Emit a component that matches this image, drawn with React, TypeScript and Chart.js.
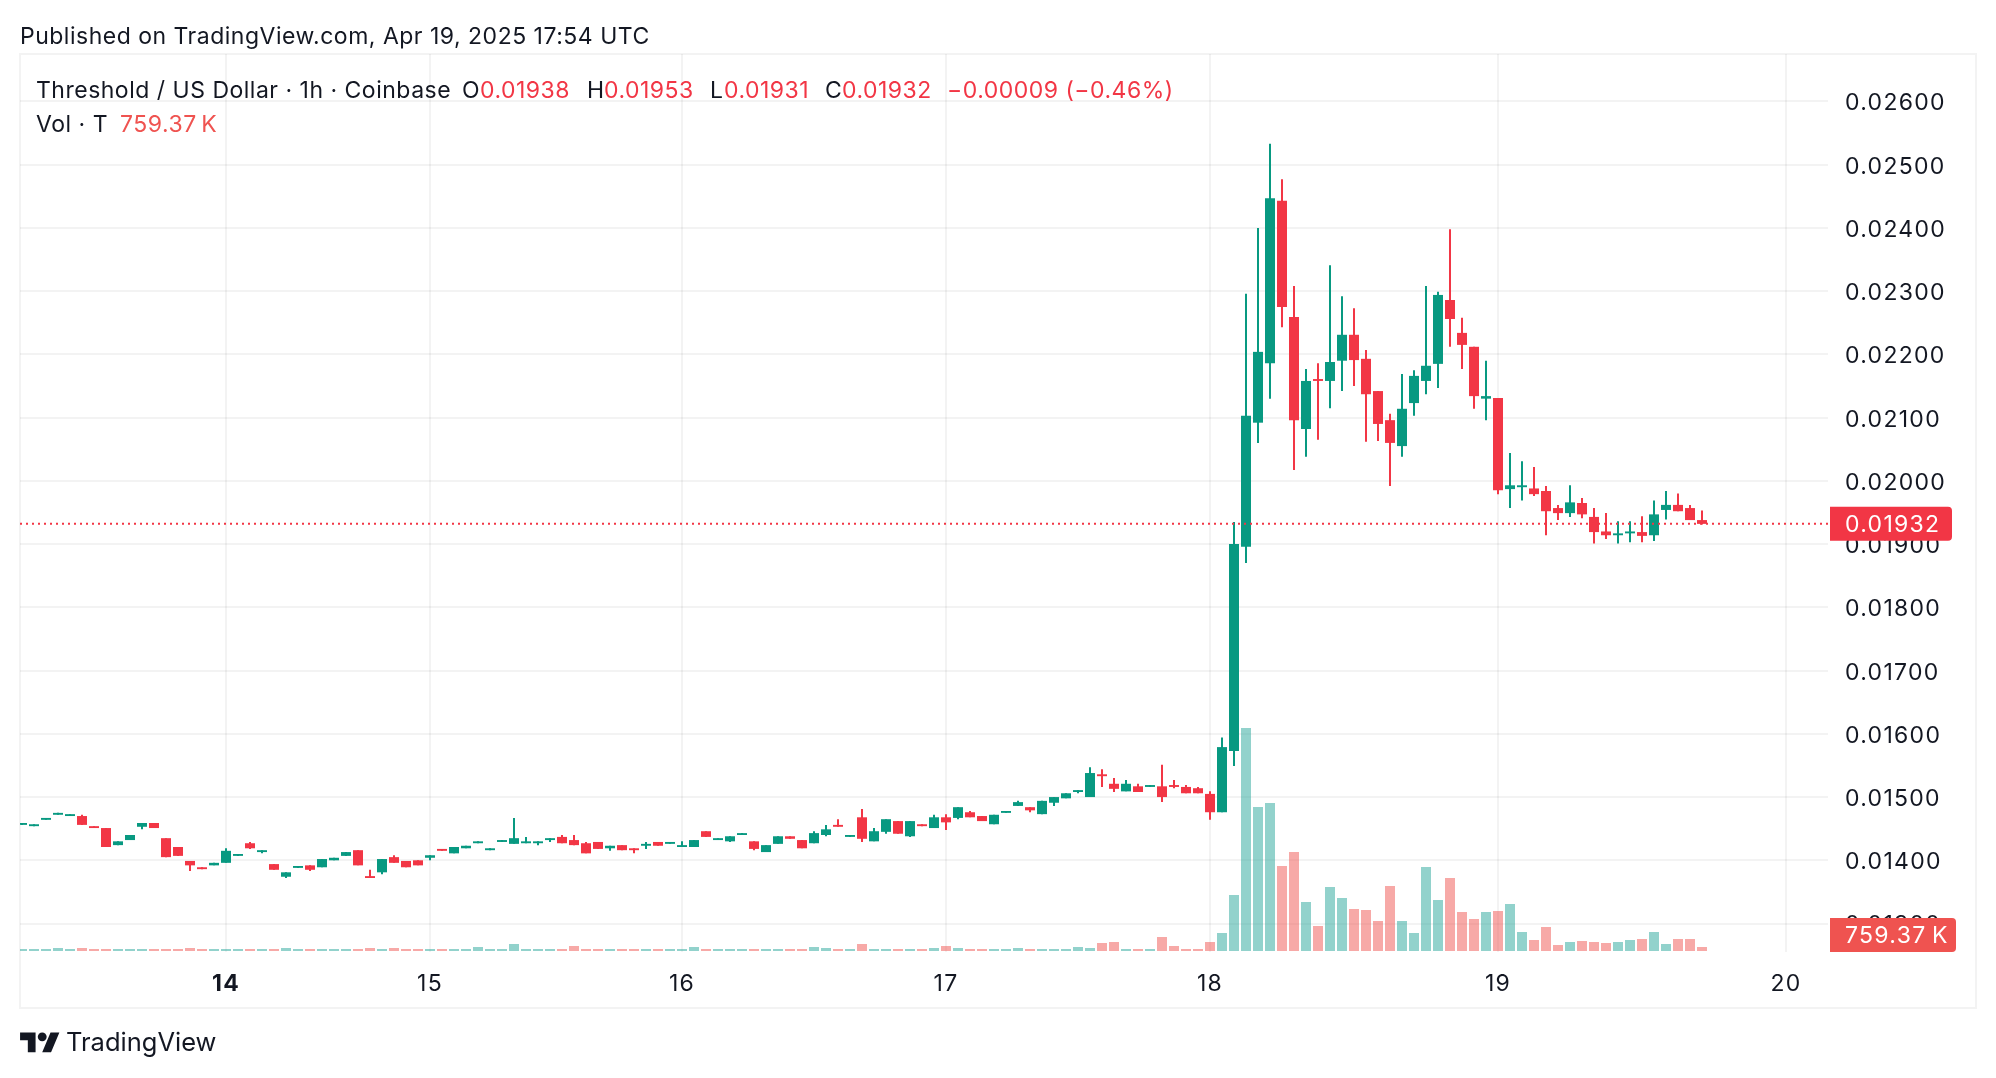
import { useEffect, useRef } from 'react';
import { Chart, registerables } from 'chart.js';

Chart.register(...registerables);

const opens = [
  0.01456, 0.01454, 0.01464, 0.01472, 0.0147, 0.0147, 0.01454, 0.01451, 0.01424, 0.01432, 0.01453, 0.01459, 0.01435, 0.01421, 0.01399, 0.01389, 0.01392, 0.01396, 0.01407, 0.01427,
  0.01413, 0.01394, 0.01374, 0.01388, 0.01392, 0.01389, 0.014, 0.01407, 0.01416, 0.01375, 0.01381, 0.01405, 0.01399, 0.014, 0.01404, 0.01418, 0.01411, 0.01419, 0.01427, 0.01416,
  0.01429, 0.01426, 0.01427, 0.01427, 0.01432, 0.01437, 0.01432, 0.01427, 0.01429, 0.01419, 0.01424, 0.01419, 0.01423, 0.01429, 0.01426, 0.01421, 0.01421, 0.01446, 0.01432, 0.0143,
  0.0144, 0.0143, 0.01413, 0.01426, 0.01438, 0.01432, 0.01427, 0.0144, 0.01456, 0.01437, 0.01468, 0.0143, 0.01445, 0.01462, 0.01438, 0.01457, 0.01451, 0.01468, 0.01467, 0.01476,
  0.0147, 0.01457, 0.01475, 0.01486, 0.01484, 0.01473, 0.01491, 0.01498, 0.01508, 0.015, 0.01536, 0.01521, 0.01509, 0.01517, 0.01516, 0.01517, 0.01519, 0.01516, 0.01514, 0.01505,
  0.01476, 0.01573, 0.01896, 0.02092, 0.02186, 0.02443, 0.02259, 0.02082, 0.02161, 0.02158, 0.0219, 0.02231, 0.02193, 0.02142, 0.02096, 0.02055, 0.02123, 0.02158, 0.02185, 0.02286,
  0.02234, 0.02212, 0.0213, 0.02131, 0.01987, 0.0199, 0.01988, 0.01984, 0.01957, 0.01949, 0.01965, 0.01943, 0.0192, 0.01914, 0.01917, 0.01919, 0.01914, 0.01954, 0.01962, 0.01957,
  0.01938,
];
const highs = [
  0.01459, 0.01457, 0.01467, 0.01475, 0.01473, 0.01472, 0.01454, 0.01451, 0.0143, 0.0144, 0.01459, 0.01459, 0.01435, 0.01421, 0.01399, 0.01389, 0.01396, 0.01419, 0.0141, 0.01429,
  0.01416, 0.01394, 0.01381, 0.01391, 0.01392, 0.01402, 0.01404, 0.01413, 0.01416, 0.01385, 0.01402, 0.01408, 0.01399, 0.014, 0.01408, 0.01418, 0.01421, 0.01423, 0.0143, 0.01419,
  0.01432, 0.01467, 0.01437, 0.0143, 0.01435, 0.0144, 0.0144, 0.01429, 0.01429, 0.01423, 0.01424, 0.01419, 0.01429, 0.01429, 0.01429, 0.0143, 0.01432, 0.01446, 0.01435, 0.01438,
  0.01443, 0.0143, 0.01424, 0.01438, 0.01438, 0.01432, 0.01446, 0.01456, 0.01465, 0.0144, 0.01481, 0.01451, 0.01465, 0.01462, 0.01462, 0.01457, 0.01472, 0.01473, 0.01484, 0.01478,
  0.0147, 0.01472, 0.01478, 0.01494, 0.01484, 0.01494, 0.015, 0.01506, 0.01511, 0.01547, 0.01544, 0.0153, 0.01527, 0.01521, 0.01519, 0.01551, 0.01527, 0.01519, 0.01516, 0.01509,
  0.01594, 0.01935, 0.02296, 0.024, 0.02533, 0.02477, 0.02308, 0.02177, 0.02186, 0.02341, 0.02292, 0.02273, 0.02207, 0.02142, 0.02106, 0.02169, 0.02175, 0.02308, 0.02299, 0.02398,
  0.02258, 0.02212, 0.0219, 0.02131, 0.02044, 0.02031, 0.02022, 0.01992, 0.01962, 0.01993, 0.01973, 0.01957, 0.01949, 0.01936, 0.01936, 0.01944, 0.01969, 0.01984, 0.0198, 0.01962,
  0.01953,
];
const lows = [
  0.01456, 0.01454, 0.01464, 0.01472, 0.0147, 0.01456, 0.01451, 0.01421, 0.01424, 0.01432, 0.01449, 0.01451, 0.01405, 0.01407, 0.01383, 0.01386, 0.01392, 0.01396, 0.01407, 0.01418,
  0.01411, 0.01385, 0.01372, 0.01388, 0.01383, 0.01389, 0.014, 0.01407, 0.01392, 0.01372, 0.01378, 0.01396, 0.01389, 0.01392, 0.014, 0.01415, 0.01411, 0.01419, 0.01427, 0.01416,
  0.01429, 0.01426, 0.01427, 0.01424, 0.01429, 0.01427, 0.01424, 0.01411, 0.01418, 0.01415, 0.01416, 0.01411, 0.01418, 0.01423, 0.01426, 0.01421, 0.01421, 0.01437, 0.01432, 0.01429,
  0.0144, 0.01416, 0.01413, 0.01426, 0.01434, 0.01419, 0.01427, 0.01438, 0.01453, 0.01437, 0.01429, 0.0143, 0.01442, 0.01442, 0.01437, 0.01454, 0.01451, 0.01448, 0.01465, 0.01468,
  0.01462, 0.01457, 0.01475, 0.01486, 0.01476, 0.01473, 0.01486, 0.01498, 0.01506, 0.015, 0.01516, 0.01508, 0.01509, 0.01508, 0.01516, 0.01492, 0.01514, 0.01506, 0.01506, 0.01464,
  0.01476, 0.01549, 0.0187, 0.0206, 0.0213, 0.02243, 0.02017, 0.02038, 0.02065, 0.02115, 0.02142, 0.0215, 0.02062, 0.02063, 0.01992, 0.02038, 0.02103, 0.02137, 0.02147, 0.02212,
  0.02177, 0.02114, 0.02096, 0.01979, 0.01957, 0.01969, 0.01976, 0.01914, 0.01938, 0.01943, 0.01941, 0.01901, 0.01908, 0.01901, 0.01903, 0.01903, 0.01905, 0.01939, 0.01952, 0.01938,
  0.01931,
];
const closes = [
  0.01459, 0.01457, 0.01467, 0.01475, 0.01473, 0.01456, 0.01451, 0.01421, 0.0143, 0.0144, 0.01459, 0.01451, 0.01405, 0.01407, 0.01392, 0.01386, 0.01396, 0.01415, 0.0141, 0.01419,
  0.01416, 0.01385, 0.01381, 0.01391, 0.01385, 0.01402, 0.01404, 0.01413, 0.01392, 0.01372, 0.01402, 0.01396, 0.01389, 0.01392, 0.01408, 0.01415, 0.01421, 0.01423, 0.0143, 0.01419,
  0.01432, 0.01435, 0.0143, 0.0143, 0.01435, 0.01427, 0.01424, 0.01411, 0.01418, 0.01423, 0.01416, 0.01416, 0.01426, 0.01423, 0.01429, 0.01424, 0.01432, 0.01437, 0.01435, 0.01438,
  0.01443, 0.01418, 0.01424, 0.01438, 0.01434, 0.01419, 0.01443, 0.01449, 0.01453, 0.0144, 0.01434, 0.01446, 0.01465, 0.01442, 0.01462, 0.01454, 0.01468, 0.0146, 0.01484, 0.01468,
  0.01462, 0.01472, 0.01478, 0.01492, 0.01479, 0.01494, 0.015, 0.01506, 0.01511, 0.01538, 0.01533, 0.01513, 0.01521, 0.01508, 0.01519, 0.015, 0.01516, 0.01506, 0.01506, 0.01476,
  0.01579, 0.019, 0.02103, 0.02204, 0.02447, 0.02275, 0.02096, 0.02158, 0.02158, 0.02188, 0.02231, 0.02191, 0.02137, 0.0209, 0.0206, 0.02114, 0.02166, 0.02182, 0.02294, 0.02256,
  0.02215, 0.02134, 0.02134, 0.01985, 0.01993, 0.01993, 0.01979, 0.01952, 0.01949, 0.01966, 0.01947, 0.01919, 0.01914, 0.01917, 0.0192, 0.01913, 0.01947, 0.01962, 0.01952, 0.01938,
  0.01932,
];
// volume in thousands
const volumes = [
  380, 380, 380, 570, 380, 570, 380, 380, 380, 380, 380, 380, 380, 380, 570, 380, 380, 380, 380, 380,
  380, 380, 570, 380, 380, 380, 380, 380, 380, 570, 380, 570, 380, 380, 380, 380, 380, 380, 760, 380,
  380, 1330, 380, 380, 380, 380, 950, 380, 380, 380, 380, 380, 380, 380, 380, 380, 760, 380, 380, 380,
  380, 380, 380, 380, 380, 380, 760, 570, 380, 380, 1330, 380, 380, 380, 380, 380, 570, 950, 570, 380,
  380, 380, 380, 570, 380, 380, 380, 380, 760, 570, 1520, 1710, 380, 380, 380, 2660, 950, 380, 380, 1710,
  3420, 10640, 42370, 27360, 28120, 16150, 18810, 9310, 4750, 12160, 10070, 7980, 7790, 5700, 12350, 5700, 3420, 15960, 9690, 13870,
  7410, 6080, 7410, 7600, 8930, 3610, 2090, 4560, 1140, 1710, 1900, 1710, 1520, 1710, 2090, 2280, 3610, 1330, 2280, 2280,
  759.37,
];
const priceTicks = [0.026, 0.025, 0.024, 0.023, 0.022, 0.021, 0.02, 0.019, 0.018, 0.017, 0.016, 0.015, 0.014, 0.013];
const dayTicks = [17, 34, 55, 77, 99, 123, 147];
const dayLabels = ['14', '15', '16', '17', '18', '19', '20'];
const lastPrice = 0.01932;
const lastVolume = 759.37;

const GREEN = '#089981';
const RED = '#f23645';
const VOL_RED = '#ef5350';
const INK = '#131722';
const GRID = 'rgba(46,46,46,0.06)';
const FONT = 'Inter, "Noto Sans", sans-serif';

const xMin = -1 / 6;
const xMax = 150.5;

const isUp = (i: number) => closes[i] >= opens[i];

// frame around the pane and the two coloured axis tags
const decorations = {
  id: 'decorations',
  beforeDraw(chart: any) {
    const { ctx } = chart;
    ctx.save();
    ctx.strokeStyle = GRID;
    ctx.lineWidth = 2;
    ctx.strokeRect(20, 54, 1956, 954);
    ctx.restore();
    ctx.letterSpacing = '1.3px';
  },
  afterDraw(chart: any) {
    const { ctx, scales } = chart;
    const tag = (y: number, w: number, bg: string, text: string) => {
      ctx.save();
      ctx.fillStyle = bg;
      ctx.beginPath();
      ctx.roundRect(1830, y - 17, w, 34, [0, 4, 4, 0]);
      ctx.fill();
      ctx.fillStyle = '#ffffff';
      ctx.font = `23px ${FONT}`;
      ctx.textBaseline = 'middle';
      ctx.fillText(text, 1845, y + 1);
      ctx.restore();
    };
    tag(scales.y.getPixelForValue(lastPrice), 122, RED, lastPrice.toFixed(5));
    tag(935, 126, VOL_RED, `${lastVolume}\u2009K`);
  },
};

function App() {
  const canvasRef = useRef<HTMLCanvasElement | null>(null);

  useEffect(() => {
    if (!canvasRef.current) return;
    const index = opens.map((_, i) => i);
    const colors = index.map((i) => (isUp(i) ? GREEN : RED));

    const chart = new Chart(canvasRef.current, {
      type: 'bar',
      plugins: [decorations],
      data: {
        datasets: [
          {
            type: 'line',
            data: [
              { x: xMin, y: lastPrice },
              { x: xMax, y: lastPrice },
            ],
            borderColor: RED,
            borderWidth: 2,
            borderDash: [2, 4],
            pointRadius: 0,
            yAxisID: 'y',
            order: 1,
          },
          {
            data: index.map((i) => ({ x: i, y: [Math.min(opens[i], closes[i]), Math.max(opens[i], closes[i])] })),
            backgroundColor: colors,
            barThickness: 10,
            grouped: false,
            inflateAmount: 0,
            yAxisID: 'y',
            order: 2,
          },
          {
            data: index.map((i) => ({ x: i, y: [lows[i], highs[i]] })),
            backgroundColor: colors,
            barThickness: 2,
            grouped: false,
            inflateAmount: 0,
            yAxisID: 'y',
            order: 3,
          },
          {
            data: index.map((i) => ({ x: i, y: volumes[i] })),
            backgroundColor: index.map((i) => (isUp(i) ? 'rgba(38,166,154,0.5)' : 'rgba(239,83,80,0.5)')),
            barThickness: 10,
            grouped: false,
            inflateAmount: 0,
            yAxisID: 'vol',
            order: 4,
          },
        ],
      } as any,
      options: {
        responsive: false,
        animation: false,
        events: [],
        layout: { padding: { left: 20, top: 54, right: 20, bottom: 70 } },
        plugins: { legend: { display: false }, tooltip: { enabled: false } },
        scales: {
          x: {
            type: 'linear',
            min: xMin,
            max: xMax,
            offset: false,
            afterFit: (scale: any) => {
              scale.height = 56;
            },
            afterBuildTicks: (scale: any) => {
              scale.ticks = dayTicks.map((value) => ({ value }));
            },
            border: { display: false },
            grid: { color: GRID, lineWidth: 2, drawTicks: false, offset: false },
            ticks: {
              autoSkip: false,
              maxRotation: 0,
              padding: 18,
              color: INK,
              callback: (_v: any, i: number) => dayLabels[i],
              font: (ctx: any) => ({ family: FONT, size: 23, weight: ctx.index === 0 ? 'bold' : 'normal' }),
            },
          },
          y: {
            type: 'linear',
            position: 'right',
            min: 0.01255,
            max: 0.02675,
            afterFit: (scale: any) => {
              scale.width = 148;
            },
            afterBuildTicks: (scale: any) => {
              scale.ticks = priceTicks.map((value) => ({ value }));
            },
            border: { display: false },
            grid: { color: GRID, lineWidth: 2, drawTicks: false },
            ticks: {
              autoSkip: false,
              padding: 17,
              labelOffset: 2,
              color: INK,
              font: { family: FONT, size: 23 },
              callback: (v: any) => Number(v).toFixed(5),
            },
          },
          vol: {
            type: 'linear',
            display: false,
            min: -190,
            max: 170430,
          },
        },
      } as any,
    });
    return () => {
      chart.destroy();
    };
  }, []);

  const text = (left: number, top: number, color: string, s: string, size = 23, spacing = 0.5) => (
    <span
      style={{
        position: 'absolute',
        left,
        top,
        color,
        fontFamily: FONT,
        fontSize: size,
        letterSpacing: spacing,
        lineHeight: '28px',
        whiteSpace: 'pre',
      }}
    >
      {s}
    </span>
  );

  return (
    <div style={{ position: 'absolute', left: 0, top: 0, width: 1996, height: 1078, background: '#fff', overflow: 'hidden' }}>
      <canvas ref={canvasRef} width={1996} height={1078} style={{ display: 'block' }} />
      {text(20, 22, INK, 'Published on TradingView.com, Apr 19, 2025 17:54 UTC')}
      {text(36, 76, INK, 'Threshold / US Dollar \u00b7 1h \u00b7 Coinbase')}
      {text(462, 76, INK, 'O')}
      {text(480, 76, RED, '0.01938')}
      {text(587, 76, INK, 'H')}
      {text(604, 76, RED, '0.01953')}
      {text(710, 76, INK, 'L')}
      {text(724, 76, RED, '0.01931')}
      {text(825, 76, INK, 'C')}
      {text(842, 76, RED, '0.01932')}
      {text(947, 76, RED, '\u22120.00009 (\u22120.46%)')}
      {text(36, 110, INK, 'Vol \u00b7 T')}
      {text(120, 110, VOL_RED, '759.37\u2009K')}
      <svg
        viewBox="0 0 36 28"
        width={40}
        height={31}
        style={{ position: 'absolute', left: 20, top: 1028 }}
      >
        <path d="M14 22H7V11H0V4h14v18zM28 22h-8l7.5-18h8L28 22z" fill="#131722" />
        <circle cx="20" cy="8" r="4" fill="#131722" />
      </svg>
      {text(66, 1028, INK, 'TradingView', 25.5, 0)}
    </div>
  );
}

export default App;
